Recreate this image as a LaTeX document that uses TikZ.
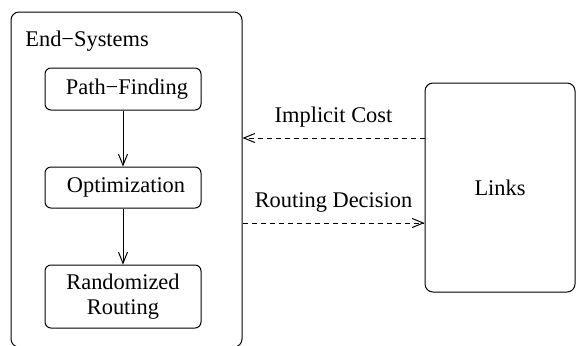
\documentclass[tikz,border=0pt]{standalone}
\usepackage{fontspec}
\setmainfont{Liberation Serif}
\usetikzlibrary{arrows.meta}

\begin{document}
\begin{tikzpicture}[x=0.5pt, y=-0.5pt,
  every node/.style={font=\fontsize{11.2}{12.2}\selectfont},
  box/.style={draw, rounded corners=3pt, line width=0.5pt, align=center,
    inner sep=0pt, minimum width=78pt},
  bigbox/.style={draw, rounded corners=4pt, line width=0.5pt, inner sep=0pt},
  flow/.style={line width=0.5pt, -{Straight Barb[length=5.5pt, width=4.5pt]}},
  signal/.style={flow, dash pattern=on 2.5pt off 2pt}]

  % Whole figure
  \useasboundingbox (0,0) rectangle (576,345);

  % End-systems container
  \node[bigbox, minimum width=115.5pt, minimum height=167.5pt] (es) at (126.5,179.5) {};
  \node[anchor=base west, inner sep=0pt] (estitle) at (25,46.5) {End−Systems};

  % Steps inside the end-systems
  \node[box, minimum height=21pt] (path) at (123,89) {\hspace{4pt}Path−Finding};
  \node[box, minimum height=20.5pt] (opt) at (123,187.5) {\hspace{3pt}Optimization};
  \node[box, minimum height=31.5pt] (rand) at (123,296.5) {Randomized\\Routing};

  \draw[flow] (path) -- (opt);
  \draw[flow] (opt) -- (rand);

  % Links
  \node[bigbox, minimum width=75pt, minimum height=104.5pt] (links) at (500,187.5) {Links};

  % Exchange between end-systems and links
  \coordinate (ic) at (0,138);
  \coordinate (rd) at (0,223);
  \draw[signal] (links.west |- ic) -- node[above=2pt] (iclabel) {Implicit Cost} (es.east |- ic);
  \draw[signal] (es.east |- rd) -- node[above=2pt] (rdlabel) {Routing Decision} (links.west |- rd);

\end{tikzpicture}
\end{document}
